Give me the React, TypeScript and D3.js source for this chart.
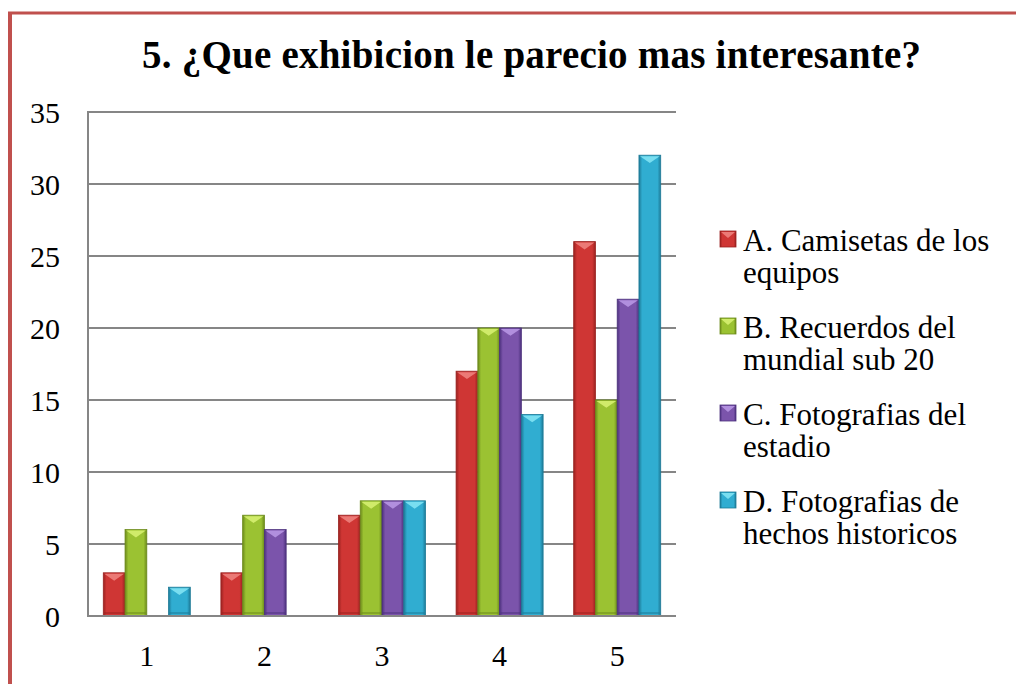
import * as d3 from "d3";

// chart data
const categories = ["1", "2", "3", "4", "5"];
const seriesNames = [
  ["A. Camisetas de los", "equipos"],
  ["B. Recuerdos del", "mundial sub 20"],
  ["C. Fotografias del", "estadio"],
  ["D. Fotografias de", "hechos historicos"],
];
const seriesA = [3, 3, 7, 17, 26];
const seriesB = [6, 7, 8, 20, 15];
const seriesC = [0, 6, 8, 20, 22];
const seriesD = [2, 0, 8, 14, 32];
const yTicks = [0, 5, 10, 15, 20, 25, 30, 35];
const title = "5. ¿Que exhibicion le parecio mas interesante?";

const series = [seriesA, seriesB, seriesC, seriesD];
const colors = [
  { dark: "#9a2220", mid: "#cf3634", light: "#f08683" },
  { dark: "#6c8a1b", mid: "#9bc232", light: "#d9f274" },
  { dark: "#4c317d", mid: "#7b54ab", light: "#bb9ae6" },
  { dark: "#1d7a97", mid: "#30add1", light: "#86e6f6" },
];

const W = 1016;
const H = 684;
const plot = { left: 88, right: 676, top: 112, bottom: 616 };
const FONT = "'Liberation Serif', 'Times New Roman', serif";

export default function App() {
  const x0 = d3
    .scaleBand<string>()
    .domain(categories)
    .range([plot.left, plot.right])
    .paddingInner(0.26)
    .paddingOuter(0.13);
  const x1 = d3
    .scaleBand<number>()
    .domain(d3.range(series.length))
    .range([0, x0.bandwidth()]);
  const y = d3.scaleLinear().domain([0, 35]).range([plot.bottom, plot.top]);

  return (
    <svg
      width={W}
      height={H}
      style={{ position: "absolute", left: 0, top: 0, background: "#fff", fontFamily: FONT }}
    >
      <defs>
        {colors.map((c, i) => (
          <linearGradient key={i} id={"g" + i} x1="0" x2="1" y1="0" y2="0">
            <stop offset="0" stopColor={c.dark} />
            <stop offset="0.15" stopColor={c.mid} />
            <stop offset="0.85" stopColor={c.mid} />
            <stop offset="1" stopColor={c.dark} />
          </linearGradient>
        ))}
      </defs>

      {/* outer frame */}
      <line x1={10} x2={10} y1={12} y2={H} stroke="#c0504d" strokeWidth={4} />
      <line x1={8} x2={W} y1={13} y2={13} stroke="#c0504d" strokeWidth={3} />

      <text
        x={142}
        y={68}
        fontSize={39}
        fontWeight="bold"
        textLength={779}
        lengthAdjust="spacing"
      >
        {title}
      </text>

      {/* grid */}
      {yTicks.map((t) => (
        <g key={t}>
          {t > 0 && (
            <line
              x1={plot.left}
              x2={plot.right}
              y1={y(t)}
              y2={y(t)}
              stroke="#868686"
              strokeWidth={2}
            />
          )}
          <text x={60} y={y(t)} dy="0.35em" textAnchor="end" fontSize={30}>
            {t}
          </text>
        </g>
      ))}

      {/* bars */}
      {categories.map((cat, ci) => (
        <g key={cat}>
          {series.map((s, si) => {
            const v = s[ci];
            if (!v) return null;
            const bx = (x0(cat) as number) + (x1(si) as number);
            const bw = x1.bandwidth();
            const by = y(v);
            const c = colors[si];
            const notch = bw * 0.36;
            return (
              <g key={si}>
                <rect
                  x={bx}
                  y={by}
                  width={bw}
                  height={plot.bottom - by}
                  fill={`url(#g${si})`}
                  stroke={c.dark}
                  strokeWidth={0.8}
                />
                <polygon
                  points={`${bx + 1},${by + 1} ${bx + bw - 1},${by + 1} ${
                    bx + bw / 2
                  },${by + notch}`}
                  fill={c.light}
                  opacity={0.85}
                />
                <line
                  x1={bx + 1}
                  x2={bx + bw - 1}
                  y1={plot.bottom - 3}
                  y2={plot.bottom - 3}
                  stroke={c.dark}
                  strokeWidth={2}
                  opacity={0.5}
                />
              </g>
            );
          })}
          <text
            x={(x0(cat) as number) + x0.bandwidth() / 2}
            y={666}
            textAnchor="middle"
            fontSize={30}
          >
            {cat}
          </text>
        </g>
      ))}

      {/* axes */}
      <line
        x1={plot.left}
        x2={plot.left}
        y1={plot.top - 1}
        y2={plot.bottom + 1}
        stroke="#868686"
        strokeWidth={2}
      />
      <line
        x1={plot.left - 1}
        x2={plot.right}
        y1={plot.bottom}
        y2={plot.bottom}
        stroke="#868686"
        strokeWidth={2}
      />

      {/* legend */}
      {seriesNames.map((lines, i) => {
        const cy = 240 + i * 87;
        const c = colors[i];
        return (
          <g key={i}>
            <rect
              x={720}
              y={cy - 9}
              width={16}
              height={16}
              fill={`url(#g${i})`}
              stroke={c.dark}
              strokeWidth={0.8}
            />
            <polygon
              points={`${721},${cy - 8} ${735},${cy - 8} ${728},${cy - 2}`}
              fill={c.light}
              opacity={0.85}
            />
            {lines.map((l, li) => (
              <text key={li} x={743} y={cy + li * 32} dy="0.35em" fontSize={31}>
                {l}
              </text>
            ))}
          </g>
        );
      })}
    </svg>
  );
}
